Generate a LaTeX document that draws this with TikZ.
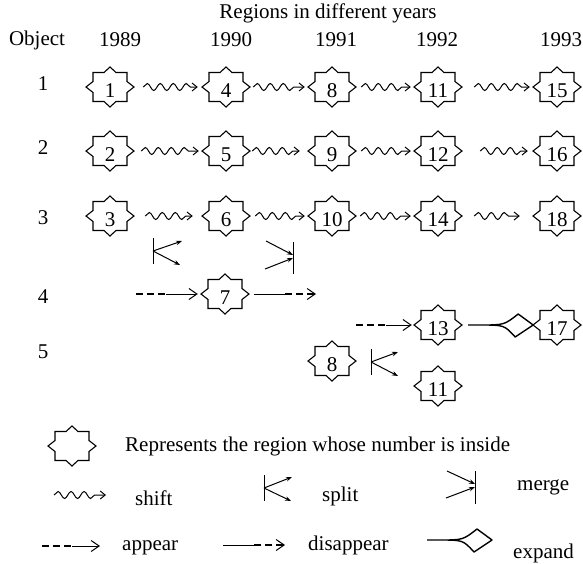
\documentclass[tikz,border=0pt]{standalone}
\usepackage{fontspec}
\setmainfont{Liberation Serif}
\usetikzlibrary{arrows.meta,decorations.pathmorphing}
\newcommand\regionstar[1]{\draw[starline,shift={(#1.center)}] (0,-20) -- (6,-14.5) -- (17,-14.5) -- (17,-5.5) -- (24,0) -- (17,5.5) -- (17,14.5) -- (6,14.5) -- (0,20) -- (-6,14.5) -- (-17,14.5) -- (-17,5.5) -- (-24,0) -- (-17,-5.5) -- (-17,-14.5) -- (-6,-14.5) -- cycle;}
\newcommand\rnode[3]{\node[region] (#1) at (#2) {#3};\regionstar{#1}}
\newcommand\expandpath{(0,0) -- (12,0) .. controls (36,0) .. (50,-11) -- (65,0) -- (47,12) .. controls (36,0) .. (12,0)}
\begin{document}
\begin{tikzpicture}[x=1pt,y=-1pt,
  every node/.style={font=\fontsize{21}{25}\selectfont, inner sep=0pt},
  region/.style={minimum width=48pt, minimum height=40pt, text height=21pt, text depth=0pt},
  starline/.style={line width=1.1pt, line join=miter},
  conn/.style={line width=1pt},
  shiftarrow/.style={conn, decorate, decoration={snake, amplitude=3.5pt, segment length=13pt, post length=6pt}, -{Straight Barb[length=5pt,width=8pt]}},
  opentip/.style={conn, -{Straight Barb[length=8pt,width=11pt]}},
  dashseg/.style={line width=1.3pt, dash pattern=on 7pt off 4pt},
  splittip/.style={conn, -{Stealth[length=6pt,width=4.5pt]}},
  expandline/.style={line width=1.4pt, line join=round}
]
\useasboundingbox (0,0) rectangle (583,563);

% headers
\node (title) at (328,13) {Regions in different years};
\node (obj) at (37,40) {Object};
\node (y1) at (120,40) {1989};
\node (y2) at (231,40) {1990};
\node (y3) at (336,40) {1991};
\node (y4) at (437,40) {1992};
\node (y5) at (561,40) {1993};
\node (o1) at (43,84) {1};
\node (o2) at (43,148) {2};
\node (o3) at (43,218) {3};
\node (o4) at (43,297) {4};
\node (o5) at (43,352) {5};

% region stars
\rnode{s1}{110,87}{1}
\rnode{s4}{226,87}{4}
\rnode{s8}{332,87}{8}
\rnode{s11}{438,87}{11}
\rnode{s15}{557,87}{15}
\rnode{s2}{110,151}{2}
\rnode{s5}{226,151}{5}
\rnode{s9}{332,151}{9}
\rnode{s12}{438,151}{12}
\rnode{s16}{557,151}{16}
\rnode{s3}{110,216}{3}
\rnode{s6}{226,216}{6}
\rnode{s10}{332,216}{10}
\rnode{s14}{438,216}{14}
\rnode{s18}{557,216}{18}
\rnode{s7}{225,294}{7}
\rnode{s13}{438,325}{13}
\rnode{s17}{557,325}{17}
\rnode{t8}{332,361}{8}
\rnode{t11}{438,386}{11}

% shift connectors
\draw[shiftarrow] ([xshift=9pt]s1.east) -- ([xshift=-4pt]s4.west);
\draw[shiftarrow] ([xshift=3pt]s4.east) -- ([xshift=-3pt]s8.west);
\draw[shiftarrow] ([xshift=5pt]s8.east) -- ([xshift=-3pt]s11.west);
\draw[shiftarrow] ([xshift=12pt]s11.east) -- ([xshift=-3pt]s15.west);
\draw[shiftarrow] ([xshift=7pt]s2.east) -- ([xshift=-3pt]s5.west);
\draw[shiftarrow] ([xshift=2pt]s5.east) -- ([xshift=-8pt]s9.west);
\draw[shiftarrow] ([xshift=5pt]s9.east) -- ([xshift=-3pt]s12.west);
\draw[shiftarrow] ([xshift=18pt]s12.east) -- ([xshift=-5pt]s16.west);
\draw[shiftarrow] ([xshift=11pt]s3.east) -- ([xshift=-9pt]s6.west);
\draw[shiftarrow] ([xshift=5pt]s6.east) -- ([xshift=-3pt]s10.west);
\draw[shiftarrow] ([xshift=4pt]s10.east) -- ([xshift=-3pt]s14.west);
\draw[shiftarrow] ([xshift=12pt]s14.east) -- ([xshift=-13pt]s18.west);

% split between rows 3 and 4
\coordinate (spA) at (153,251);
\coordinate (spAt) at (153,238);
\coordinate (spAb) at (153,264);
\coordinate (spA1) at (182,241);
\coordinate (spA2) at (180,265);
\draw[conn] (spAt) -- (spAb);
\draw[splittip] (spA) -- (spA1);
\draw[splittip] (spA) -- (spA2);

% merge
\coordinate (mgt) at (293,242);
\coordinate (mgb) at (293,274);
\coordinate (mg1) at (266,241);
\coordinate (mg2) at (265,269);
\coordinate (mgi1) at (293,255);
\coordinate (mgi2) at (293,258);
\draw[conn] (mgt) -- (mgb);
\draw[splittip] (mg1) -- (mgi1);
\draw[splittip] (mg2) -- (mgi2);

% appear / disappear row 4
\coordinate (ap4) at (136,294);
\coordinate (ap4m) at (166,294);
\draw[dashseg] (ap4) -- (ap4m);
\draw[opentip] (ap4m) -- ([xshift=-3pt]s7.west);
\coordinate (dis4m) at (285,294);
\coordinate (dis4) at (316,294);
\draw[conn] ([xshift=5pt]s7.east) -- (dis4m);
\draw[dashseg, -{Straight Barb[length=8pt,width=11pt,line width=1pt]}] (dis4m) -- (dis4);

% appear row 5
\coordinate (ap5) at (356,325);
\coordinate (ap5m) at (386,325);
\draw[dashseg] (ap5) -- (ap5m);
\draw[opentip] (ap5m) -- ([xshift=-2pt]s13.west);

% expand 13 -> 17
\draw[expandline, shift={([xshift=6pt]s13.east)}] \expandpath;

% split row 5
\coordinate (spB) at (371,362);
\coordinate (spBt) at (371,349);
\coordinate (spBb) at (371,375);
\coordinate (spB1) at (398,352);
\coordinate (spB2) at (398,376);
\draw[conn] (spBt) -- (spBb);
\draw[splittip] (spB) -- (spB1);
\draw[splittip] (spB) -- (spB2);

% legend
\node[region] (lstar) at (72,446) {};
\regionstar{lstar}
\node[anchor=west] (ltext) at (125,446) {Represents the region whose number is inside};

\coordinate (lsh1) at (54,495);
\coordinate (lsh2) at (106,495);
\draw[shiftarrow] (lsh1) -- (lsh2);
\node[anchor=west] (lshift) at (135,498) {shift};

\coordinate (lsp) at (264,488);
\coordinate (lspt) at (264,475);
\coordinate (lspb) at (264,501);
\coordinate (lsp1) at (292,477);
\coordinate (lsp2) at (291,501);
\draw[conn] (lspt) -- (lspb);
\draw[splittip] (lsp) -- (lsp1);
\draw[splittip] (lsp) -- (lsp2);
\node[anchor=west] (lsplit) at (322,496) {split};

\coordinate (lmgt) at (475,471);
\coordinate (lmgb) at (475,504);
\coordinate (lmg1) at (447,471);
\coordinate (lmg2) at (446,498);
\coordinate (lmgi1) at (475,484);
\coordinate (lmgi2) at (475,487);
\draw[conn] (lmgt) -- (lmgb);
\draw[splittip] (lmg1) -- (lmgi1);
\draw[splittip] (lmg2) -- (lmgi2);
\node[anchor=west] (lmerge) at (517,487) {merge};

\coordinate (lap1) at (42,546);
\coordinate (lap2) at (72,546);
\coordinate (lap3) at (100,546);
\draw[dashseg] (lap1) -- (lap2);
\draw[opentip] (lap2) -- (lap3);
\node[anchor=west] (lappear) at (122,548) {appear};

\coordinate (ld1) at (223,545);
\coordinate (ld2) at (254,545);
\coordinate (ld3) at (285,545);
\draw[conn] (ld1) -- (ld2);
\draw[dashseg, -{Straight Barb[length=8pt,width=11pt,line width=1pt]}] (ld2) -- (ld3);
\node[anchor=west] (ldis) at (308,545) {disappear};

\coordinate (lex) at (427,540);
\draw[expandline, shift={(lex)}] \expandpath;
\node[anchor=west] (lexp) at (513,553) {expand};
\end{tikzpicture}
\end{document}
